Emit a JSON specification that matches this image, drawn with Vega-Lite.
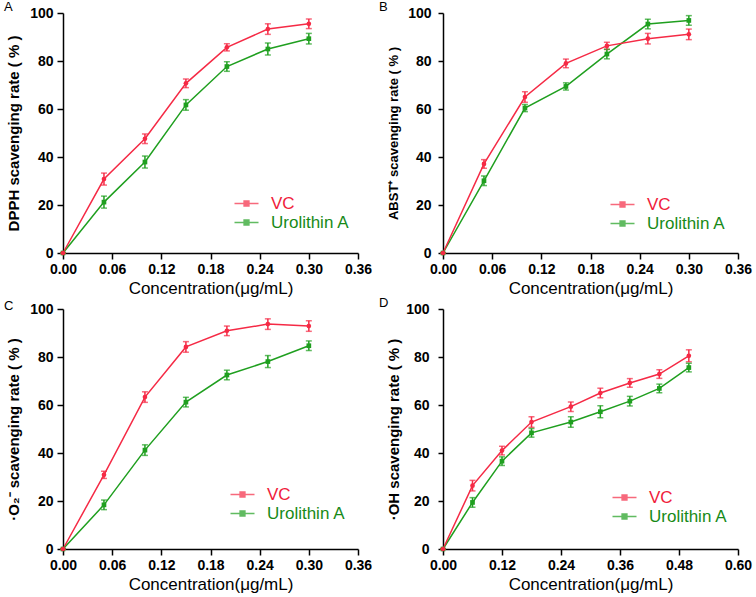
{
  "$schema": "https://vega.github.io/schema/vega-lite/v6.json",
  "autosize": "none",
  "padding": {"left": 63, "top": 13, "right": 693, "bottom": 584},
  "background": "white",
  "config": {
    "view": {"stroke": null},
    "font": "Liberation Sans",
    "axis": {
      "grid": false,
      "domainColor": "black",
      "domainWidth": 1.5,
      "tickColor": "black",
      "tickWidth": 1.5,
      "tickSize": 6,
      "labelFont": "Liberation Sans",
      "labelFontWeight": "bold",
      "labelFontSize": 14,
      "labelColor": "black",
      "labelOverlap": false,
      "labelFlush": false,
      "titleFont": "Liberation Sans",
      "titleColor": "black"
    },
    "axisX": {"labelPadding": 3, "titleFontSize": 17, "titleFontWeight": "normal", "titlePadding": 4},
    "axisY": {"labelPadding": 4, "titleFontSize": 15, "titleFontWeight": "bold", "titlePadding": 8},
    "title": {"fontSize": 13, "fontWeight": "normal", "anchor": "start", "frame": "group", "offset": 0, "baseline": "alphabetic", "color": "black", "font": "Liberation Sans"},
    "legend": {
      "title": null,
      "orient": "none",
      "padding": 0,
      "rowPadding": 1,
      "labelFont": "Liberation Sans",
      "labelFontSize": 17,
      "labelOffset": 16,
      "symbolType": "M-2,0H2M-0.4,-0.4H0.4V0.4H-0.4Z",
      "symbolSize": 144,
      "symbolStrokeWidth": 1.5
    }
  },
  "datasets": {
    "a": [
      {"s": "Urolithin A", "x": 0, "y": 0, "lo": 0, "hi": 0},
      {"s": "Urolithin A", "x": 0.05, "y": 21.2, "lo": 18.7, "hi": 23.7},
      {"s": "Urolithin A", "x": 0.10, "y": 37.9, "lo": 35.4, "hi": 40.4},
      {"s": "Urolithin A", "x": 0.15, "y": 61.7, "lo": 59.5, "hi": 63.9},
      {"s": "Urolithin A", "x": 0.20, "y": 77.7, "lo": 75.7, "hi": 79.7},
      {"s": "Urolithin A", "x": 0.25, "y": 85.0, "lo": 82.5, "hi": 87.5},
      {"s": "Urolithin A", "x": 0.30, "y": 89.3, "lo": 87.1, "hi": 91.5},
      {"s": "VC", "x": 0, "y": 0, "lo": 0, "hi": 0},
      {"s": "VC", "x": 0.05, "y": 30.8, "lo": 28.3, "hi": 33.3},
      {"s": "VC", "x": 0.10, "y": 47.6, "lo": 45.6, "hi": 49.6},
      {"s": "VC", "x": 0.15, "y": 70.7, "lo": 68.9, "hi": 72.5},
      {"s": "VC", "x": 0.20, "y": 85.7, "lo": 84.2, "hi": 87.2},
      {"s": "VC", "x": 0.25, "y": 93.3, "lo": 91.1, "hi": 95.5},
      {"s": "VC", "x": 0.30, "y": 95.5, "lo": 93.5, "hi": 97.5}
    ],
    "b": [
      {"s": "Urolithin A", "x": 0, "y": 0, "lo": 0, "hi": 0},
      {"s": "Urolithin A", "x": 0.05, "y": 30.1, "lo": 28.1, "hi": 32.1},
      {"s": "Urolithin A", "x": 0.10, "y": 60.4, "lo": 58.9, "hi": 61.9},
      {"s": "Urolithin A", "x": 0.15, "y": 69.4, "lo": 67.9, "hi": 70.9},
      {"s": "Urolithin A", "x": 0.20, "y": 82.9, "lo": 80.9, "hi": 84.9},
      {"s": "Urolithin A", "x": 0.25, "y": 95.4, "lo": 93.4, "hi": 97.4},
      {"s": "Urolithin A", "x": 0.30, "y": 96.9, "lo": 94.9, "hi": 98.9},
      {"s": "VC", "x": 0, "y": 0, "lo": 0, "hi": 0},
      {"s": "VC", "x": 0.05, "y": 37.1, "lo": 35.3, "hi": 38.9},
      {"s": "VC", "x": 0.10, "y": 65.0, "lo": 62.8, "hi": 67.2},
      {"s": "VC", "x": 0.15, "y": 79.0, "lo": 77.2, "hi": 80.8},
      {"s": "VC", "x": 0.20, "y": 86.3, "lo": 84.8, "hi": 87.8},
      {"s": "VC", "x": 0.25, "y": 89.3, "lo": 87.1, "hi": 91.5},
      {"s": "VC", "x": 0.30, "y": 91.1, "lo": 88.9, "hi": 93.3}
    ],
    "c": [
      {"s": "Urolithin A", "x": 0, "y": 0, "lo": 0, "hi": 0},
      {"s": "Urolithin A", "x": 0.05, "y": 18.4, "lo": 16.4, "hi": 20.4},
      {"s": "Urolithin A", "x": 0.10, "y": 41.2, "lo": 39.0, "hi": 43.4},
      {"s": "Urolithin A", "x": 0.15, "y": 61.2, "lo": 59.2, "hi": 63.2},
      {"s": "Urolithin A", "x": 0.20, "y": 72.5, "lo": 70.5, "hi": 74.5},
      {"s": "Urolithin A", "x": 0.25, "y": 78.1, "lo": 75.6, "hi": 80.6},
      {"s": "Urolithin A", "x": 0.30, "y": 84.7, "lo": 82.7, "hi": 86.7},
      {"s": "VC", "x": 0, "y": 0, "lo": 0, "hi": 0},
      {"s": "VC", "x": 0.05, "y": 30.9, "lo": 29.4, "hi": 32.4},
      {"s": "VC", "x": 0.10, "y": 63.3, "lo": 61.1, "hi": 65.5},
      {"s": "VC", "x": 0.15, "y": 84.2, "lo": 82.0, "hi": 86.4},
      {"s": "VC", "x": 0.20, "y": 90.9, "lo": 88.9, "hi": 92.9},
      {"s": "VC", "x": 0.25, "y": 93.7, "lo": 91.5, "hi": 95.9},
      {"s": "VC", "x": 0.30, "y": 92.9, "lo": 90.7, "hi": 95.1}
    ],
    "d": [
      {"s": "Urolithin A", "x": 0, "y": 0, "lo": 0, "hi": 0},
      {"s": "Urolithin A", "x": 0.06, "y": 19.4, "lo": 17.4, "hi": 21.4},
      {"s": "Urolithin A", "x": 0.12, "y": 36.6, "lo": 34.8, "hi": 38.4},
      {"s": "Urolithin A", "x": 0.18, "y": 48.4, "lo": 46.6, "hi": 50.2},
      {"s": "Urolithin A", "x": 0.26, "y": 52.9, "lo": 50.7, "hi": 55.1},
      {"s": "Urolithin A", "x": 0.32, "y": 57.2, "lo": 54.7, "hi": 59.7},
      {"s": "Urolithin A", "x": 0.38, "y": 61.6, "lo": 59.6, "hi": 63.6},
      {"s": "Urolithin A", "x": 0.44, "y": 66.9, "lo": 65.1, "hi": 68.7},
      {"s": "Urolithin A", "x": 0.50, "y": 75.6, "lo": 73.8, "hi": 77.4},
      {"s": "VC", "x": 0, "y": 0, "lo": 0, "hi": 0},
      {"s": "VC", "x": 0.06, "y": 26.4, "lo": 24.2, "hi": 28.6},
      {"s": "VC", "x": 0.12, "y": 41.0, "lo": 39.2, "hi": 42.8},
      {"s": "VC", "x": 0.18, "y": 52.9, "lo": 50.7, "hi": 55.1},
      {"s": "VC", "x": 0.26, "y": 59.3, "lo": 57.3, "hi": 61.3},
      {"s": "VC", "x": 0.32, "y": 65.0, "lo": 63.0, "hi": 67.0},
      {"s": "VC", "x": 0.38, "y": 69.2, "lo": 67.4, "hi": 71.0},
      {"s": "VC", "x": 0.44, "y": 72.9, "lo": 71.1, "hi": 74.7},
      {"s": "VC", "x": 0.50, "y": 80.5, "lo": 78.0, "hi": 83.0}
    ]
  },
  "bounds": "flush",
  "columns": 2,
  "spacing": {"row": 56, "column": 85},
  "resolve": {"legend": {"color": "independent"}},
  "concat": [
    {
      "width": 295, "height": 240,
      "title": {"text": "A", "dx": -59, "dy": 12},
      "data": {"name": "a"},
      "encoding": {
        "x": {"field": "x", "type": "quantitative", "scale": {"domain": [0, 0.36]}, "axis": {"values": [0, 0.06, 0.12, 0.18, 0.24, 0.3, 0.36], "format": ".2f", "title": "Concentration(μg/mL)"}},
        "color": {"field": "s", "type": "nominal", "scale": {"domain": ["VC", "Urolithin A"], "range": ["#f52a45", "#1f9f1f"]},
          "legend": {"legendX": 175, "legendY": 182, "labelColor": {"expr": "datum.value === 'VC' ? '#f0203a' : '#178a17'"}}}
      },
      "layer": [
        {"mark": {"type": "line", "strokeWidth": 1.5}, "encoding": {"y": {"field": "y", "type": "quantitative", "scale": {"domain": [0, 100]}, "axis": {"values": [0, 20, 40, 60, 80, 100], "titleFontSize": 15}, "title": "DPPH scavenging rate ( % )"}}},
        {"mark": {"type": "errorbar", "ticks": {"size": 6, "thickness": 1.5}, "rule": {"strokeWidth": 1.5}}, "encoding": {"y": {"field": "lo", "type": "quantitative", "title": "DPPH scavenging rate ( % )"}, "y2": {"field": "hi"}}},
        {"mark": {"type": "point", "filled": true, "size": 22, "opacity": 1}, "encoding": {"y": {"field": "y", "type": "quantitative", "title": "DPPH scavenging rate ( % )"}, "shape": {"field": "s", "type": "nominal", "scale": {"domain": ["VC", "Urolithin A"], "range": ["circle", "square"]}, "legend": null}}}
      ]
    },
    {
      "width": 295, "height": 240,
      "title": {"text": "B", "dx": -64, "dy": 12},
      "data": {"name": "b"},
      "encoding": {
        "x": {"field": "x", "type": "quantitative", "scale": {"domain": [0, 0.36]}, "axis": {"values": [0, 0.06, 0.12, 0.18, 0.24, 0.3, 0.36], "format": ".2f", "title": "Concentration(μg/mL)"}},
        "color": {"field": "s", "type": "nominal", "scale": {"domain": ["VC", "Urolithin A"], "range": ["#f52a45", "#1f9f1f"]},
          "legend": {"legendX": 171, "legendY": 183, "labelColor": {"expr": "datum.value === 'VC' ? '#f0203a' : '#178a17'"}}}
      },
      "layer": [
        {"mark": {"type": "line", "strokeWidth": 1.5}, "encoding": {"y": {"field": "y", "type": "quantitative", "scale": {"domain": [0, 100]}, "axis": {"values": [0, 20, 40, 60, 80, 100], "titleFontSize": 13, "labelPadding": 7, "tickSize": 5, "titlePadding": 7}, "title": "ABST⁺ scavenging rate ( % )"}}},
        {"mark": {"type": "errorbar", "ticks": {"size": 6, "thickness": 1.5}, "rule": {"strokeWidth": 1.5}}, "encoding": {"y": {"field": "lo", "type": "quantitative", "title": "ABST⁺ scavenging rate ( % )"}, "y2": {"field": "hi"}}},
        {"mark": {"type": "point", "filled": true, "size": 22, "opacity": 1}, "encoding": {"y": {"field": "y", "type": "quantitative", "title": "ABST⁺ scavenging rate ( % )"}, "shape": {"field": "s", "type": "nominal", "scale": {"domain": ["VC", "Urolithin A"], "range": ["circle", "square"]}, "legend": null}}}
      ]
    },
    {
      "width": 295, "height": 240,
      "title": {"text": "C", "dx": -59, "dy": 15},
      "data": {"name": "c"},
      "encoding": {
        "x": {"field": "x", "type": "quantitative", "scale": {"domain": [0, 0.36]}, "axis": {"values": [0, 0.06, 0.12, 0.18, 0.24, 0.3, 0.36], "format": ".2f", "title": "Concentration(μg/mL)"}},
        "color": {"field": "s", "type": "nominal", "scale": {"domain": ["VC", "Urolithin A"], "range": ["#f52a45", "#1f9f1f"]},
          "legend": {"legendX": 171, "legendY": 177, "labelColor": {"expr": "datum.value === 'VC' ? '#f0203a' : '#178a17'"}}}
      },
      "layer": [
        {"mark": {"type": "line", "strokeWidth": 1.5}, "encoding": {"y": {"field": "y", "type": "quantitative", "scale": {"domain": [0, 100]}, "axis": {"values": [0, 20, 40, 60, 80, 100], "titleFontSize": 15}, "title": "·O₂⁻ scavenging rate ( % )"}}},
        {"mark": {"type": "errorbar", "ticks": {"size": 6, "thickness": 1.5}, "rule": {"strokeWidth": 1.5}}, "encoding": {"y": {"field": "lo", "type": "quantitative", "title": "·O₂⁻ scavenging rate ( % )"}, "y2": {"field": "hi"}}},
        {"mark": {"type": "point", "filled": true, "size": 22, "opacity": 1}, "encoding": {"y": {"field": "y", "type": "quantitative", "title": "·O₂⁻ scavenging rate ( % )"}, "shape": {"field": "s", "type": "nominal", "scale": {"domain": ["VC", "Urolithin A"], "range": ["circle", "square"]}, "legend": null}}}
      ]
    },
    {
      "width": 295, "height": 240,
      "title": {"text": "D", "dx": -64, "dy": 12},
      "data": {"name": "d"},
      "encoding": {
        "x": {"field": "x", "type": "quantitative", "scale": {"domain": [0, 0.6]}, "axis": {"values": [0, 0.12, 0.24, 0.36, 0.48, 0.6], "format": ".2f", "title": "Concentration(μg/mL)"}},
        "color": {"field": "s", "type": "nominal", "scale": {"domain": ["VC", "Urolithin A"], "range": ["#f52a45", "#1f9f1f"]},
          "legend": {"legendX": 173, "legendY": 180, "labelColor": {"expr": "datum.value === 'VC' ? '#f0203a' : '#178a17'"}}}
      },
      "layer": [
        {"mark": {"type": "line", "strokeWidth": 1.5}, "encoding": {"y": {"field": "y", "type": "quantitative", "scale": {"domain": [0, 100]}, "axis": {"values": [0, 20, 40, 60, 80, 100], "titleFontSize": 15, "labelPadding": 9, "tickSize": 5, "titlePadding": 4}, "title": "·OH scavenging rate ( % )"}}},
        {"mark": {"type": "errorbar", "ticks": {"size": 6, "thickness": 1.5}, "rule": {"strokeWidth": 1.5}}, "encoding": {"y": {"field": "lo", "type": "quantitative", "title": "·OH scavenging rate ( % )"}, "y2": {"field": "hi"}}},
        {"mark": {"type": "point", "filled": true, "size": 22, "opacity": 1}, "encoding": {"y": {"field": "y", "type": "quantitative", "title": "·OH scavenging rate ( % )"}, "shape": {"field": "s", "type": "nominal", "scale": {"domain": ["VC", "Urolithin A"], "range": ["circle", "square"]}, "legend": null}}}
      ]
    }
  ]
}
